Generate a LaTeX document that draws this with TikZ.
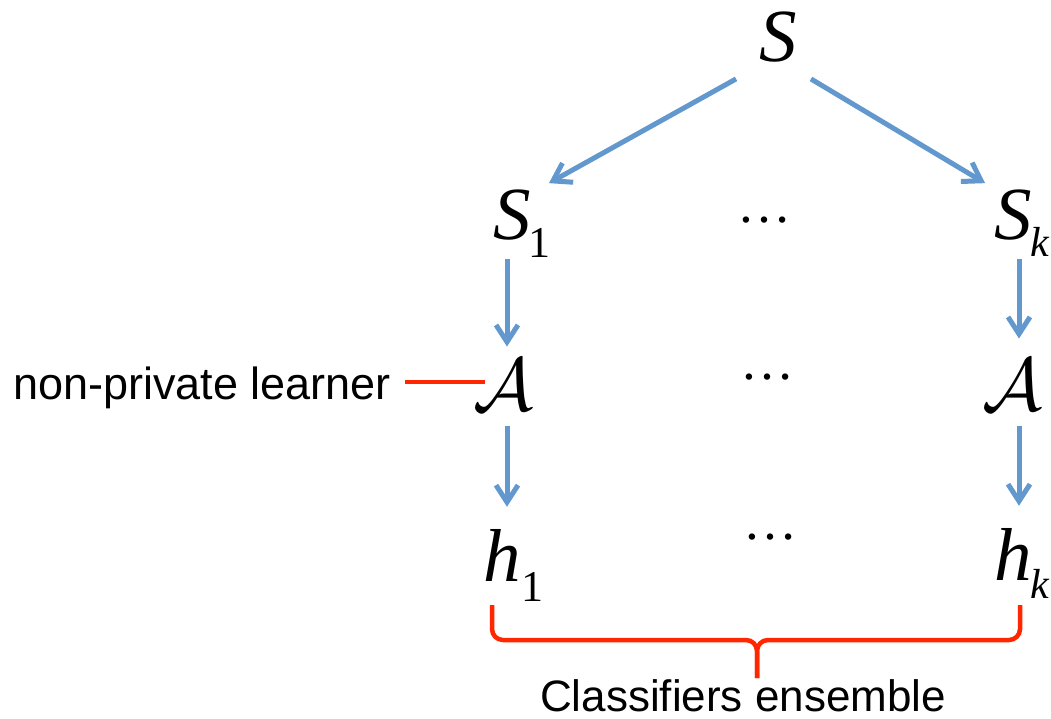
\documentclass[tikz,border=0pt]{standalone}
\usepackage{fontspec}
\setmainfont{Liberation Serif}
\setsansfont{Liberation Sans}
\usetikzlibrary{arrows.meta,calc}

\definecolor{flowblue}{RGB}{98,152,205}
\definecolor{markred}{RGB}{255,38,0}

\newcommand{\bigcal}[1]{\scalebox{7.5}{$\mathcal{#1}$}}

\tikzset{
  sym/.style={inner sep=0pt, anchor=base, font=\fontsize{75}{80}\selectfont\itshape},
  cal/.style={inner sep=0pt, anchor=base, font=\normalsize},
  sub/.style={inner sep=0pt, anchor=base west, font=\fontsize{44}{48}\selectfont},
  subit/.style={sub, font=\fontsize{42}{46}\selectfont\itshape},
  dots/.style={inner sep=0pt, anchor=base, font=\fontsize{54}{58}\selectfont},
  caption/.style={inner sep=0pt, font=\fontsize{44}{50}\selectfont\sffamily},
  flow/.style={draw=flowblue, line width=5pt, -{Straight Barb[length=17pt,width=22pt]}},
  redline/.style={draw=markred, line width=4.5pt},
}

\begin{document}
\begin{tikzpicture}[x=1pt,y=-1pt]
  \useasboundingbox (0,0) rectangle (1051,719);

  % top data set
  \node[sym] (S) at (778,62) {S};

  % partitions
  \node[sym] (S1) at (512,240) {S};
  \node[sub] (S1i) at (528,258) {1};
  \node[dots] (d1) at (764,223) {…};
  \node[sym] (Sk) at (1013,240) {S};
  \node[subit] (Ski) at (1030,256) {k};

  % learners
  \node[cal] (A1) at (503,410) {\bigcal{A}};
  \node[dots] (d2) at (767,379) {…};
  \node[cal] (Ak) at (1012,410) {\bigcal{A}};

  % classifiers
  \node[sym] (h1) at (502,581) {h};
  \node[sub] (h1i) at (521,601) {1};
  \node[dots] (d3) at (770,539) {…};
  \node[sym] (hk) at (1013,580) {h};
  \node[subit] (hki) at (1030,598) {k};

  % column lines for the vertical arrows
  \coordinate (colL) at (507,0);
  \coordinate (colR) at (1019,0);

  % split arrows
  \draw[flow] ($(S.south west)+(-23,16)$) -- ($(S1.north east)+(18,-7)$);
  \draw[flow] ($(S.south east)+(14,16)$) -- ($(Sk.north west)+(-9,-7)$);

  % vertical arrows
  \draw[flow] ($(S1.south -| colL)+(0,18)$) -- ($(A1.north -| colL)+(0,-12)$);
  \draw[flow] ($(A1.south -| colL)+(0,16)$) -- ($(h1.north -| colL)+(0,-22)$);
  \draw[flow] ($(Sk.south -| colR)+(0,18)$) -- ($(Ak.north -| colR)+(0,-20)$);
  \draw[flow] ($(Ak.south -| colR)+(0,16)$) -- ($(hk.north -| colR)+(0,-22)$);

  % learner label and its pointer line
  \node[caption, font=\fontsize{45}{50}\selectfont\sffamily, anchor=base east] (lbl) at (391,399) {non-private learner};
  \coordinate (ptr) at (0,382);
  \draw[redline] ($(lbl.east |- ptr)+(14,0)$) -- ($(A1.west |- ptr)+(12,0)$);

  % ensemble brace
  \coordinate (bl) at (492,605);
  \coordinate (br) at (1020,605);
  \coordinate (bm) at (757,640);
  \coordinate (btip) at (757,678);
  \draw[redline, rounded corners=11pt] (bl) -- (bl |- bm) -- (bm) -- (btip);
  \draw[redline, rounded corners=11pt] (br) -- (br |- bm) -- (bm) -- (btip);
  \node[caption, anchor=base] (ens) at (743,711) {Classifiers ensemble};
\end{tikzpicture}
\end{document}
